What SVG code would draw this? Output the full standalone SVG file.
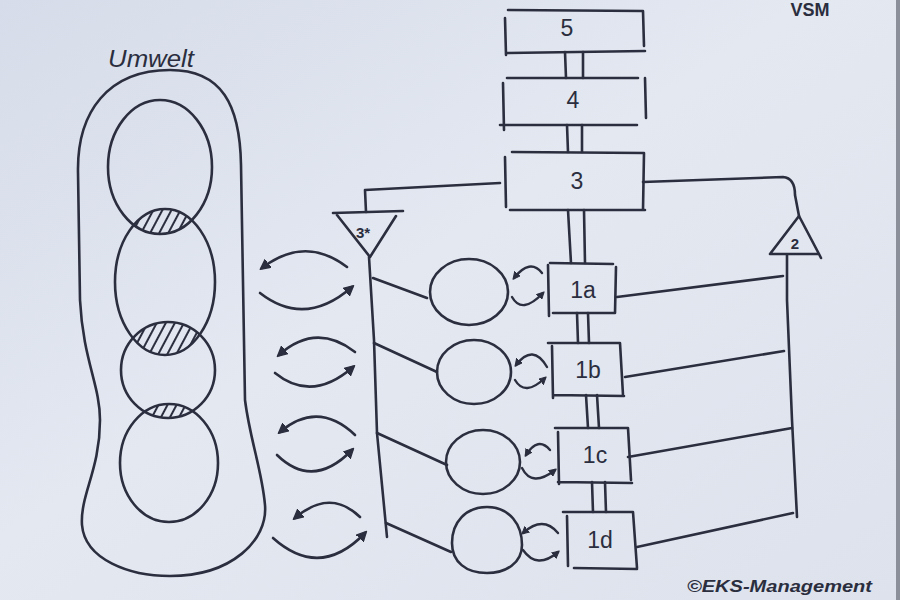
<svg xmlns="http://www.w3.org/2000/svg" width="900" height="600" viewBox="0 0 900 600">
  <defs>
    <linearGradient id="bg" x1="0" y1="0" x2="1" y2="1">
      <stop offset="0" stop-color="#d6dce9"/>
      <stop offset="0.45" stop-color="#e3e8f1"/>
      <stop offset="1" stop-color="#dde2ec"/>
    </linearGradient>
    <pattern id="hatch" patternUnits="userSpaceOnUse" width="8" height="8" patternTransform="rotate(28)">
      <line x1="2" y1="0" x2="2" y2="8" stroke="#2b2e3e" stroke-width="2"/>
    </pattern>
    <clipPath id="clipC2"><ellipse cx="165" cy="282" rx="50" ry="73"/></clipPath>
    <clipPath id="clipC3"><ellipse cx="168" cy="370" rx="47" ry="48"/></clipPath>
    <clipPath id="clipC4"><ellipse cx="169" cy="463" rx="49" ry="59"/></clipPath>
    <marker id="ah" viewBox="0 0 10 10" refX="7" refY="5" markerWidth="11" markerHeight="11" markerUnits="userSpaceOnUse" orient="auto">
      <path d="M0,0.5 L9,5 L0,9.5 Z" fill="#2b2e3e" stroke="#2b2e3e" stroke-width="1.2" stroke-linejoin="round"/>
    </marker>
    <marker id="ahs" viewBox="0 0 10 10" refX="7" refY="5" markerWidth="8" markerHeight="8" markerUnits="userSpaceOnUse" orient="auto">
      <path d="M0,0.5 L9,5 L0,9.5 Z" fill="#2b2e3e" stroke="#2b2e3e" stroke-width="1.2" stroke-linejoin="round"/>
    </marker>
  </defs>
  <style>
    .ink { fill: none; stroke: #2b2e3e; stroke-width: 2.6; stroke-linecap: round; stroke-linejoin: round; }
    .arr { fill: none; stroke: #2b2e3e; stroke-width: 2.6; stroke-linecap: round; marker-end: url(#ah); }
    .sarr { fill: none; stroke: #2b2e3e; stroke-width: 2.4; stroke-linecap: round; marker-end: url(#ahs); }
    .lbl { font-family: "Liberation Sans", "DejaVu Sans", sans-serif; fill: #2b2e3e; text-anchor: middle; }
    .big { font-size: 23px; }
    .small { font-size: 15px; font-weight: bold; }
  </style>

  <rect x="0" y="0" width="900" height="600" fill="url(#bg)"/>
  <rect x="896" y="0" width="4" height="600" fill="#8a8f9a"/>

  <text class="lbl" x="810" y="16" font-size="18" font-weight="bold">VSM</text>

  <!-- Environment -->
  <g id="umwelt">
    <text class="lbl" x="151" y="67" font-size="24" font-style="italic" textLength="86" lengthAdjust="spacingAndGlyphs">Umwelt</text>
    <path class="ink" d="M170,70 C108,70 77,112 78,172 L80,300 C83,360 100,385 100,420 C100,470 80,495 82,525 C85,560 130,576 170,576 C232,576 268,540 265,505 C262,470 250,440 245,400 L241,165 C240,105 222,70 170,70 Z"/>
    <g clip-path="url(#clipC2)"><ellipse cx="160" cy="167" rx="52" ry="67" fill="url(#hatch)"/></g>
    <g clip-path="url(#clipC3)"><ellipse cx="165" cy="282" rx="50" ry="73" fill="url(#hatch)"/></g>
    <g clip-path="url(#clipC4)"><ellipse cx="168" cy="370" rx="47" ry="48" fill="url(#hatch)"/></g>
    <ellipse class="ink" cx="160" cy="167" rx="52" ry="67"/>
    <ellipse class="ink" cx="165" cy="282" rx="50" ry="73"/>
    <ellipse class="ink" cx="168" cy="370" rx="47" ry="48"/>
    <ellipse class="ink" cx="169" cy="463" rx="49" ry="59"/>
  </g>

  <!-- Systems 5, 4, 3 -->
  <g id="s5">
    <path class="ink" d="M508,10 L643,11 L644,46 M507,53 L645,51 M505,18 L506,55"/>
    <text class="lbl big" x="567" y="36">5</text>
  </g>
  <g id="s4">
    <path class="ink" d="M507,78 L638,78 M645,78 L646,118 M500,125 L637,125 M503,83 L504,130"/>
    <text class="lbl big" x="573" y="108">4</text>
  </g>
  <g id="s3">
    <path class="ink" d="M512,152 L644,153 L643,210 M505,157 L506,207 M510,210 L645,210"/>
    <text class="lbl big" x="577" y="189">3</text>
  </g>
  <g id="s3star">
    <path class="ink" d="M333,213 L403,211 M337,215 L370,257 L396,216"/>
    <text class="lbl small" x="363" y="238">3*</text>
  </g>
  <g id="s2">
    <path class="ink" d="M799,216 L770,254 L819,254 L821,258 M819,254 L799,216"/>
    <text class="lbl small" x="795" y="249">2</text>
  </g>

  <!-- Operations -->
  <g id="s1a">
    <path class="ink" d="M550,263 L613,264 M616,267 L615,313 M548,265 L549,316 M553,313 L615,313"/>
    <text class="lbl big" x="583" y="298">1a</text>
    <ellipse class="ink" cx="469" cy="292" rx="39" ry="33"/>
  </g>
  <g id="s1b">
    <path class="ink" d="M548,343 L620,343 L623,395 M552,346 L553,398 M553,395 L624,396"/>
    <text class="lbl big" x="588" y="378">1b</text>
    <ellipse class="ink" cx="474" cy="372" rx="37" ry="32"/>
  </g>
  <g id="s1c">
    <path class="ink" d="M555,428 L628,428 L631,480 M558,432 L559,484 M558,482 L632,483"/>
    <text class="lbl big" x="595" y="463">1c</text>
    <ellipse class="ink" cx="483" cy="462" rx="37" ry="32"/>
  </g>
  <g id="s1d">
    <path class="ink" d="M563,512 L633,512 L637,568 M567,516 L568,566 M574,568 L637,569"/>
    <text class="lbl big" x="600" y="548">1d</text>
    <path class="ink" d="M487,507 C510,507 522,525 522,545 C522,563 506,573 487,573 C466,573 452,562 452,543 C452,522 466,507 487,507 Z"/>
  </g>

  <!-- Connectors -->
  <g id="connectors">
    <path class="ink" d="M565,52 L566,78 M583,52 L583,78"/>
    <path class="ink" d="M567,125 L568,152 M582,125 L582,152"/>
    <path class="ink" d="M568,210 L571,263 M584,210 L585,263"/>
    <path class="ink" d="M577,313 L578,343 M588,313 L589,343"/>
    <path class="ink" d="M586,395 L588,428 M597,395 L599,428"/>
    <path class="ink" d="M592,482 L593,512 M605,482 L606,512"/>

    <path class="ink" d="M500,183 L365,190 L366,212"/>
    <path class="ink" d="M369,257 L374,340 L377,433 L387,537"/>
    <path class="ink" d="M373,278 L427,298 M374,343 L437,372 M377,433 L447,465 M386,523 L451,552"/>

    <path class="ink" d="M643,182 L783,177 Q795,178 795,195 L799,216"/>
    <path class="ink" d="M787,255 L787,300 L792,420 L797,517"/>
    <path class="ink" d="M617,297 L783,276 M625,377 L784,351 M628,457 L792,428 M637,547 L793,513"/>

    <path class="arr" d="M347,267 Q305,235 262,268"/>
    <path class="arr" d="M260,293 Q305,328 352,287"/>
    <path class="arr" d="M355,352 Q316,322 279,355"/>
    <path class="arr" d="M275,373 Q312,403 353,367"/>
    <path class="arr" d="M355,435 Q318,400 280,432"/>
    <path class="arr" d="M277,455 Q313,490 352,450"/>
    <path class="arr" d="M360,517 Q330,488 295,518"/>
    <path class="arr" d="M273,538 Q320,580 365,533"/>

    <path class="sarr" d="M542,273 Q530,258 514,278"/>
    <path class="sarr" d="M512,297 Q522,315 543,293"/>
    <path class="sarr" d="M547,367 Q533,343 516,365"/>
    <path class="sarr" d="M515,380 Q525,397 545,378"/>
    <path class="sarr" d="M550,450 Q538,436 526,455"/>
    <path class="sarr" d="M522,468 Q532,488 555,470"/>
    <path class="sarr" d="M558,533 Q543,515 523,533"/>
    <path class="sarr" d="M523,550 Q537,570 558,552"/>
  </g>

  <text x="687" y="592" font-family="Liberation Sans, DejaVu Sans, sans-serif" font-size="17" font-weight="bold" font-style="italic" fill="#2b2e3e" textLength="185" lengthAdjust="spacingAndGlyphs">©EKS-Management</text>
</svg>
